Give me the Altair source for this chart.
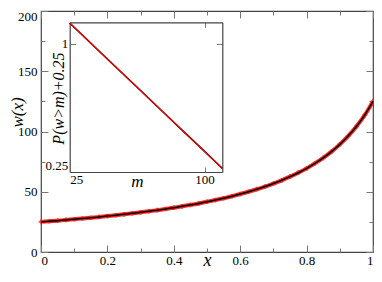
import altair as alt
import pandas as pd

# main curve w(x)
x_vals = [0.000, 0.025, 0.050, 0.075, 0.100, 0.125, 0.150, 0.175, 0.200, 0.225,
          0.250, 0.275, 0.300, 0.325, 0.350, 0.375, 0.400, 0.425, 0.450, 0.475,
          0.500, 0.525, 0.550, 0.575, 0.600, 0.625, 0.650, 0.675, 0.700, 0.725,
          0.750, 0.775, 0.800, 0.825, 0.850, 0.875, 0.900, 0.925, 0.950, 0.975, 1.000]
w_vals = [25.0, 25.5, 26.0, 26.6, 27.2, 27.8, 28.4, 29.1, 29.8, 30.5,
          31.3, 32.1, 32.9, 33.8, 34.7, 35.7, 36.8, 37.9, 39.1, 40.3,
          41.7, 43.1, 44.6, 46.3, 48.1, 50.0, 52.1, 54.3, 56.8, 59.5,
          62.5, 65.8, 69.4, 73.5, 78.1, 83.3, 89.3, 96.2, 104.2, 113.6, 125.0]

# inset: P(w>m)+0.25 vs m (log-log)
m_vals = [25, 30, 40, 50, 60, 70, 80, 90, 100, 110, 120]
p_vals = [1.25, 1.04, 0.78, 0.625, 0.52, 0.446, 0.39, 0.347, 0.3125, 0.284, 0.26]
fit_m = [25, 120]
fit_p = [1.25, 0.26]

x_major = [0, 0.2, 0.4, 0.6, 0.8, 1.0]
x_minor = [0.1, 0.3, 0.5, 0.7, 0.9]
y_major = [0, 50, 100, 150, 200]
y_lab_low = [0, 50, 100, 150]
y_lab_top = [200]
y_minor = [25, 75, 125, 175]
im_ticks = [25, 100]
ip_ticks = [0.25, 1]

W, H = 332, 241
IL, IR, IT, IB = 28.7, 181.3, 11.3, 161.0
SERIF = "Liberation Serif, Times New Roman, Times, serif"

main = pd.DataFrame({"x": x_vals, "w": w_vals})
ins = pd.DataFrame({"m": m_vals, "p": p_vals})
fit = pd.DataFrame({"m": fit_m, "p": fit_p})

mx = alt.Scale(domain=[0, 1], nice=False, zero=False)
my = alt.Scale(domain=[0, 200], nice=False, zero=False)
ix = alt.Scale(type="log", domain=[25, 120], range=[IL, IR], nice=False)
iy = alt.Scale(type="log", domain=[0.25, 1.26], range=[IB, IT], nice=False)


def tax(orient, offset, values, size, domain=False):
    return alt.Axis(orient=orient, offset=offset, values=values, tickSize=size,
                    labels=False, domain=domain, title=None, ticks=True, grid=False)


# main layers
l1 = alt.Chart(main).mark_line(color="#ff0000", strokeWidth=4, opacity=0.85,
                               interpolate="monotone").encode(
    x=alt.X("x:Q", scale=mx, axis=alt.Axis(
        orient="bottom", values=x_major, format="~g", ticks=False, domain=False,
        labelPadding=2, title="x", titleFont=SERIF, titleFontStyle="italic",
        titleFontWeight="normal", titleFontSize=18, titleX=W / 2, titleY=13,
        titleBaseline="alphabetic", titleAlign="center")),
    y=alt.Y("w:Q", scale=my, axis=alt.Axis(
        orient="left", values=y_lab_low, format="d", ticks=False, domain=False,
        labelPadding=4, title="w(x)", titleFont=SERIF, titleFontStyle="italic",
        titleFontWeight="normal", titleFontSize=17, titleX=-19, titleY=101,
        titleBaseline="alphabetic", titleAlign="center")),
)
l2 = alt.Chart(main).mark_point(shape="cross", color="#ff2020", size=22, filled=True,
                                opacity=0.8).encode(
    x=alt.X("x:Q", scale=mx, axis=tax("top", -H, x_major, 7)),
    y=alt.Y("w:Q", scale=my, axis=tax("right", -W, y_major, 7)),
)
l3 = alt.Chart(main).mark_line(color="black", strokeWidth=1.5,
                               interpolate="monotone").encode(
    x=alt.X("x:Q", scale=mx, axis=tax("top", -H, x_minor, 4)),
    y=alt.Y("w:Q", scale=my, axis=tax("right", -W, y_minor, 4)),
)
l4 = alt.Chart(main).mark_line(opacity=0).encode(
    x=alt.X("x:Q", scale=mx, axis=tax("bottom", -H, x_major, 7)),
    y=alt.Y("w:Q", scale=my, axis=tax("left", -W, y_major, 7)),
)
l5 = alt.Chart(main).mark_line(opacity=0).encode(
    x=alt.X("x:Q", scale=mx, axis=tax("bottom", -H, x_minor, 4)),
    y=alt.Y("w:Q", scale=my, axis=tax("left", -W, y_minor, 4)),
)
l6 = alt.Chart(main).mark_line(opacity=0).encode(
    x=alt.X("x:Q", scale=mx, axis=None),
    y=alt.Y("w:Q", scale=my, axis=alt.Axis(
        orient="left", values=y_lab_top, format="d", ticks=False, domain=False,
        labelPadding=4, labelOffset=5, title=None)),
)

# inset layers
i1 = alt.Chart(ins).mark_line(color="black", strokeWidth=1.5).encode(
    x=alt.X("m:Q", scale=ix, axis=alt.Axis(
        orient="bottom", offset=-(H - IB), values=im_ticks, format="d", ticks=False,
        domain=True, labelPadding=1, labelFlush=True, title="m", titleFont=SERIF,
        titleFontStyle="italic", titleFontWeight="normal", titleFontSize=17,
        titleX=96, titleY=14, titleBaseline="alphabetic", titleAlign="center")),
    y=alt.Y("p:Q", scale=iy, axis=alt.Axis(
        orient="left", offset=-IL, values=ip_ticks, format=".2~f", ticks=False,
        domain=True, labelPadding=2, labelFlush=True, title="P(w>m)+0.25",
        titleFont=SERIF, titleFontStyle="italic", titleFontWeight="normal",
        titleFontSize=16, titleX=-6, titleY=87, titleBaseline="alphabetic",
        titleAlign="center")),
)
i2 = alt.Chart(fit).mark_line(color="#ff0000", strokeWidth=1.2).encode(
    x=alt.X("m:Q", scale=ix, axis=tax("top", -IB, [100], 5)),
    y=alt.Y("p:Q", scale=iy, axis=tax("right", -(W - IL), [1], 6)),
)
i3 = alt.Chart(fit).mark_line(opacity=0).encode(
    x=alt.X("m:Q", scale=ix, axis=tax("bottom", -(H - IT), [100], 5, domain=True)),
    y=alt.Y("p:Q", scale=iy, axis=tax("left", -IR, [1], 6, domain=True)),
)

chart = alt.layer(l1, l2, l3, l4, l5, l6, i1, i2, i3).resolve_scale(
    x="independent", y="independent"
).properties(
    width=W, height=H,
    autosize=alt.AutoSizeParams(type="none"),
    padding={"left": 33, "top": 3, "right": 1, "bottom": 17},
).configure_view(
    stroke="#444", strokeWidth=1.2
).configure_axis(
    grid=False, labelFont=SERIF, labelFontSize=13, labelColor="black",
    titleColor="black", domainColor="#444", domainWidth=1.2,
    tickColor="#777", tickWidth=1
)

chart.save("out.html", embed_options={"renderer": "svg", "actions": False})
